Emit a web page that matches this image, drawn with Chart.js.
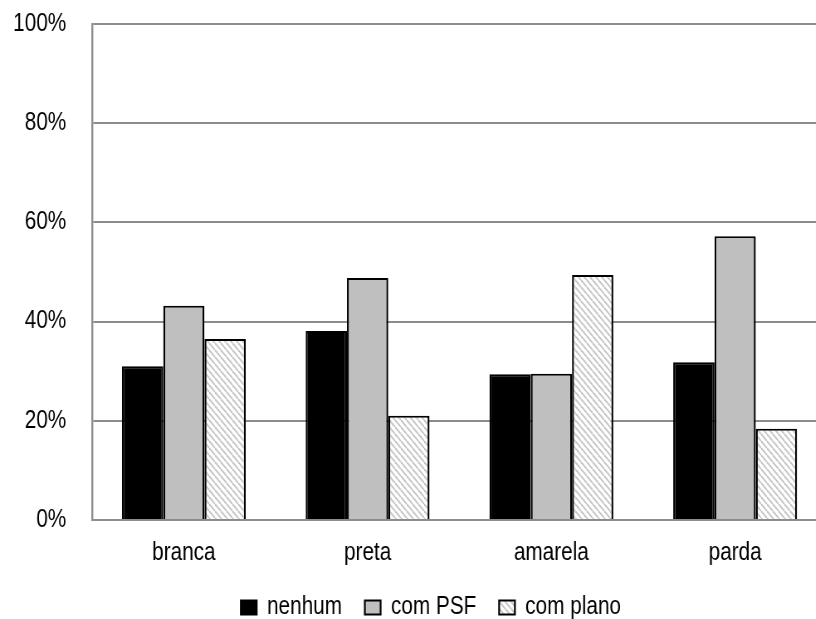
<!DOCTYPE html>
<html>
<head>
<meta charset="utf-8">
<script src="https://cdn.jsdelivr.net/npm/chart.js@4/dist/chart.umd.min.js"></script>
<style>
  html, body { margin: 0; padding: 0; background: #fff; }
  #frame { width: 816px; height: 619px; overflow: hidden; position: relative; }
  /* the figure is drawn wide and squeezed horizontally, giving narrow lettering */
  #chart { display: block; transform: scale(0.83, 1); transform-origin: 0 0; }
</style>
</head>
<body>
<div id="frame"><canvas id="chart" width="1039" height="630"></canvas></div>
<script>
// Categories and series (share of each group, in %)
const categories = ['branca', 'preta', 'amarela', 'parda'];
const seriesNames = ['nenhum', 'com PSF', 'com plano'];
const nenhum = [31.0, 38.1, 29.4, 31.8];
const comPSF = [43.2, 48.8, 29.5, 57.2];
const comPlano = [36.5, 21.0, 49.4, 18.4];
const yTicks = [0, 20, 40, 60, 80, 100];

// Light diagonal hatch used for the "com plano" bars
function makeHatch() {
  const s = 7;
  const c = document.createElement('canvas');
  c.width = s; c.height = s;
  const g = c.getContext('2d');
  g.fillStyle = '#ffffff';
  g.fillRect(0, 0, s, s);
  g.strokeStyle = '#c4c4c4';
  g.lineWidth = 1.8;
  for (let k = -1; k <= 1; k++) {
    g.beginPath();
    g.moveTo(k * s, 0);
    g.lineTo(k * s + s, s);
    g.stroke();
  }
  return g.createPattern(c, 'repeat');
}
const hatch = makeHatch();

// Moves the legend row sideways so it sits under the middle of the figure
const legendShift = {
  id: 'legendShift',
  afterLayout(chart) {
    const dx = 21;
    chart.legend.left += dx;
    chart.legend.right += dx;
  }
};

const FONT = "'Liberation Sans', Arial, sans-serif";
const barBorder = { left: 2.4, right: 2.4, top: 2, bottom: 2 };

new Chart(document.getElementById('chart'), {
  type: 'bar',
  data: {
    labels: categories,
    datasets: [
      { label: seriesNames[0], data: nenhum, backgroundColor: '#000000', borderColor: '#000000', borderWidth: barBorder },
      { label: seriesNames[1], data: comPSF, backgroundColor: '#bfbfbf', borderColor: '#000000', borderWidth: barBorder },
      { label: seriesNames[2], data: comPlano, backgroundColor: hatch, borderColor: '#000000', borderWidth: barBorder }
    ]
  },
  options: {
    responsive: false,
    animation: false,
    devicePixelRatio: 1,
    layout: { padding: { left: 0, right: 42.6, top: 24, bottom: 0 } },
    datasets: { bar: { categoryPercentage: 0.674, barPercentage: 1.0, borderSkipped: 'start' } },
    scales: {
      x: {
        afterFit(axis) { axis.height = 47.5; },
        grid: { display: false, drawTicks: false },
        border: { display: true, color: '#8c8c8c', width: 2 },
        ticks: { color: '#000', font: { family: FONT, size: 25 }, padding: 18 }
      },
      y: {
        min: 0, max: 100,
        afterBuildTicks(axis) { axis.ticks = yTicks.map(v => ({ value: v })); },
        afterFit(axis) {
          axis.width = 110.8;
          axis.paddingTop = 0;
          axis.paddingBottom = 0;
        },
        grid: { color: '#8c8c8c', lineWidth: 2, drawTicks: false },
        border: { display: true, color: '#8c8c8c', width: 2.4 },
        ticks: { color: '#000', font: { family: FONT, size: 25 }, padding: 31, callback: v => v + '%' }
      }
    },
    plugins: {
      legend: {
        position: 'bottom',
        labels: {
          color: '#000',
          font: { family: FONT, size: 25 },
          boxWidth: 19,
          boxHeight: 14,
          padding: 27.5
        }
      },
      tooltip: { enabled: false }
    }
  },
  plugins: [legendShift]
});
</script>
</body>
</html>
